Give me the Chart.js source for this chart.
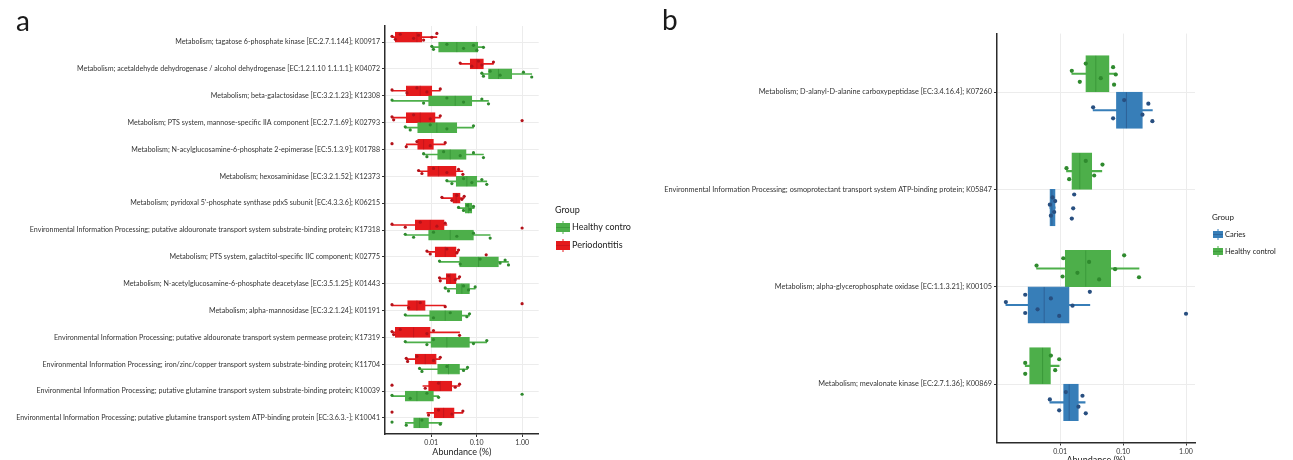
<!DOCTYPE html>
<html>
<head>
<meta charset="utf-8">
<script src="https://cdn.jsdelivr.net/npm/chart.js@4.4.1/dist/chart.umd.min.js"></script>
<style>
  html, body { margin: 0; padding: 0; background: #fff; overflow: hidden; width: 1293px; height: 460px; }
  #wrapA { position: absolute; left: 0; top: 0; width: 631px; height: 460px; overflow: hidden; }
  #wrapB { position: absolute; left: 640px; top: 0; width: 653px; height: 468px; }
</style>
</head>
<body>
<div id="wrapA"><canvas id="chartA" width="631" height="460"></canvas></div>
<div id="wrapB"><canvas id="chartB" width="653" height="468"></canvas></div>
<script>
// ---------- Panel a: periodontitis vs healthy control ----------
const catsA = [
  "Metabolism; tagatose 6-phosphate kinase [EC:2.7.1.144]; K00917",
  "Metabolism; acetaldehyde dehydrogenase / alcohol dehydrogenase [EC:1.2.1.10 1.1.1.1]; K04072",
  "Metabolism; beta-galactosidase [EC:3.2.1.23]; K12308",
  "Metabolism; PTS system, mannose-specific IIA component [EC:2.7.1.69]; K02793",
  "Metabolism; N-acylglucosamine-6-phosphate 2-epimerase [EC:5.1.3.9]; K01788",
  "Metabolism; hexosaminidase [EC:3.2.1.52]; K12373",
  "Metabolism; pyridoxal 5'-phosphate synthase pdxS subunit [EC:4.3.3.6]; K06215",
  "Environmental Information Processing; putative aldouronate transport system substrate-binding protein; K17318",
  "Metabolism; PTS system, galactitol-specific IIC component; K02775",
  "Metabolism; N-acetylglucosamine-6-phosphate deacetylase [EC:3.5.1.25]; K01443",
  "Metabolism; alpha-mannosidase [EC:3.2.1.24]; K01191",
  "Environmental Information Processing; putative aldouronate transport system permease protein; K17319",
  "Environmental Information Processing; iron/zinc/copper transport system substrate-binding protein; K11704",
  "Environmental Information Processing; putative glutamine transport system substrate-binding protein; K10039",
  "Environmental Information Processing; putative glutamine transport system ATP-binding protein [EC:3.6.3.-]; K10041"
];

const periodontitisLow    = [0.00137, 0.0434, 0.00137, 0.00137, 0.00282, 0.00527, 0.0172, 0.00137, 0.00803, 0.0152, 0.00137, 0.00137, 0.00282, 0.00656, 0.00803];
const periodontitisQ1     = [0.00162, 0.0719, 0.00282, 0.00282, 0.00501, 0.0083, 0.0299, 0.00445, 0.0122, 0.0214, 0.00302, 0.00162, 0.00445, 0.00873, 0.0116];
const periodontitisMedian = [0.00484, 0.101, 0.00573, 0.00573, 0.00679, 0.0145, 0.0354, 0.00951, 0.0203, 0.0262, 0.00484, 0.00409, 0.00738, 0.0158, 0.0187];
const periodontitisQ3     = [0.00624, 0.141, 0.0103, 0.0122, 0.0112, 0.0354, 0.0434, 0.0193, 0.0354, 0.0354, 0.00738, 0.00951, 0.0129, 0.0285, 0.032];
const periodontitisHigh   = [0.0133, 0.234, 0.0158, 0.0158, 0.0203, 0.0497, 0.0531, 0.0221, 0.0399, 0.042, 0.0203, 0.042, 0.0158, 0.042, 0.0497];
const periodontitisPoints = [
  [0.00137, 0.00162, 0.00208, 0.00409, 0.00527, 0.00679, 0.0103, 0.0133],
  [0.0434, 0.0783, 0.110, 0.130, 0.234],
  [0.00137, 0.00292, 0.00484, 0.00803, 0.0158],
  [0.00137, 0.00149, 0.00409, 0.00951, 0.0158, 1.0],
  [0.00137, 0.00282, 0.00484, 0.00951, 0.0203],
  [0.00527, 0.00624, 0.0112, 0.0221, 0.0399, 0.0497],
  [0.0172, 0.0285, 0.0366, 0.0472, 0.0531],
  [0.00137, 0.00268, 0.00573, 0.0133, 0.0203, 1.0],
  [0.00803, 0.00951, 0.0221, 0.0366, 0.0399, 0.162],
  [0.0152, 0.0158, 0.024, 0.0337, 0.042],
  [0.00137, 0.00318, 0.00573, 0.0203, 1.0],
  [0.00137, 0.00149, 0.00208, 0.00803, 0.0112, 0.042],
  [0.00282, 0.00302, 0.00484, 0.0112, 0.0158],
  [0.00137, 0.00738, 0.0145, 0.0337, 0.042],
  [0.00137, 0.00873, 0.0145, 0.0285, 0.0497]
];

const healthyALow    = [0.0103, 0.130, 0.00137, 0.00268, 0.00679, 0.0221, 0.0399, 0.00268, 0.0152, 0.0203, 0.00268, 0.00268, 0.00554, 0.00137, 0.00268];
const healthyAQ1     = [0.0145, 0.182, 0.00873, 0.00501, 0.0138, 0.0354, 0.0559, 0.00873, 0.042, 0.0354, 0.00919, 0.00983, 0.0138, 0.00268, 0.00409];
const healthyAMedian = [0.0366, 0.302, 0.0337, 0.0133, 0.0262, 0.0608, 0.0661, 0.0262, 0.110, 0.0472, 0.0203, 0.0221, 0.024, 0.00484, 0.00554];
const healthyAQ3     = [0.106, 0.593, 0.0783, 0.0366, 0.0588, 0.101, 0.0783, 0.0851, 0.302, 0.0695, 0.0472, 0.0695, 0.042, 0.0112, 0.00873];
const healthyAHigh   = [0.141, 1.63, 0.182, 0.0851, 0.141, 0.167, 0.0881, 0.198, 0.501, 0.0927, 0.0695, 0.167, 0.0629, 0.0145, 0.0172];
const healthyAPoints = [
  [0.0103, 0.0112, 0.0221, 0.0514, 0.0851, 0.101, 0.141],
  [0.130, 0.141, 0.198, 0.328, 1.07, 1.63],
  [0.00137, 0.00679, 0.0221, 0.0514, 0.130, 0.182],
  [0.00268, 0.00345, 0.00951, 0.0221, 0.0851],
  [0.00679, 0.00803, 0.0187, 0.0434, 0.0851, 0.141],
  [0.0221, 0.0285, 0.0514, 0.0783, 0.130, 0.167],
  [0.0399, 0.0514, 0.0629, 0.0719, 0.0851],
  [0.00268, 0.00409, 0.0112, 0.0366, 0.0851, 0.198],
  [0.0152, 0.0434, 0.119, 0.328, 0.423, 0.501],
  [0.0203, 0.024, 0.0514, 0.0661, 0.0927],
  [0.00268, 0.0112, 0.0262, 0.0608, 0.0695],
  [0.00268, 0.00803, 0.0112, 0.0851, 0.167],
  [0.00554, 0.00624, 0.0221, 0.0514, 0.0629],
  [0.00137, 0.00345, 0.00803, 0.0145, 1.0],
  [0.00137, 0.00282, 0.00624, 0.0158]
];

// ---------- Panel b: caries vs healthy control ----------
const catsB = [
  "Metabolism; D-alanyl-D-alanine carboxypeptidase [EC:3.4.16.4]; K07260",
  "Environmental Information Processing; osmoprotectant transport system ATP-binding protein; K05847",
  "Metabolism; alpha-glycerophosphate oxidase [EC:1.1.3.21]; K00105",
  "Metabolism; mevalonate kinase [EC:2.7.1.36]; K00869"
];

const healthyBLow    = [0.0153, 0.0126, 0.00421, 0.00278];
const healthyBQ1     = [0.0255, 0.0153, 0.012, 0.00326];
const healthyBMedian = [0.0368, 0.0205, 0.0255, 0.00525];
const healthyBQ3     = [0.060, 0.0318, 0.0637, 0.00702];
const healthyBHigh   = [0.0783, 0.0459, 0.179, 0.00964];
const healthyBPoints = [
  [0.0153, 0.0205, 0.0255, 0.0442, 0.0694, 0.0719, 0.0765],
  [0.0126, 0.0139, 0.0255, 0.0347, 0.047],
  [0.00421, 0.0109, 0.0112, 0.0188, 0.0288, 0.0416, 0.0746, 0.104, 0.179],
  [0.00278, 0.00278, 0.00711, 0.00833, 0.00964]
];

const cariesLow    = [0.0334, 0.00685, 0.00137, 0.00685];
const cariesQ1     = [0.0783, 0.00685, 0.00307, 0.0113];
const cariesMedian = [0.113, 0.00738, 0.00557, 0.0139];
const cariesQ3     = [0.203, 0.00833, 0.0139, 0.0195];
const cariesHigh   = [0.292, 0.00833, 0.0296, 0.0249];
const cariesPoints = [
  [0.0334, 0.0694, 0.104, 0.203, 0.252, 0.292],
  [0.00685, 0.00711, 0.00756, 0.00803, 0.00833, 0.0153, 0.0161, 0.0167],
  [0.00137, 0.00278, 0.00278, 0.00437, 0.00711, 0.00964, 0.0157, 0.0296, 1.0],
  [0.00685, 0.00964, 0.0123, 0.0195, 0.0226, 0.0255]
];

const abundanceTicks = [0.01, 0.1, 1];

// ---------- styling ----------
const FONT = "Lato, 'Liberation Sans', sans-serif";
const RED = '#E41A1C', GREEN = '#4DAF4A', BLUE = '#377EB8';
const RED_DARK = '#B3121A', GREEN_DARK = '#2F8A2E', BLUE_DARK = '#284F80';
const DODGE = 0.1875;          // half of a box's share of a category band
const JITTER = [-0.2, 0.55, -0.7, 0.3, -0.45, 0.75, 0.05, -0.9, 0.6];
const JITTER_AMP = 0.15;

// one boxplot group = whisker bar + IQR bar + median tick + jittered dots
function boxGroup(label, low, q1, med, q3, high, pts, dodge, fill, dark, st) {
  const pos = i => i + dodge;
  return [
    { type: 'bar', label: label + ' whisker', data: low.map((v, i) => ({ x: [v, high[i]], y: pos(i) })),
      backgroundColor: fill, barThickness: st.whisker, grouped: false, borderWidth: 0, order: 3 },
    { type: 'bar', label: label, data: q1.map((v, i) => ({ x: [v, q3[i]], y: pos(i) })),
      backgroundColor: fill, borderColor: fill, borderWidth: 0.8, borderSkipped: false,
      grouped: false, categoryPercentage: 1, barPercentage: 1, order: 2 },
    { type: 'scatter', label: label + ' median', data: med.map((v, i) => ({ x: v, y: pos(i) })),
      pointStyle: 'line', pointRotation: 90, pointRadius: st.median, pointBorderWidth: 1,
      pointBorderColor: dark + '99', order: 1 },
    { type: 'scatter', label: label + ' samples',
      data: pts.flatMap((row, i) => row.map((v, k) => ({ x: v, y: pos(i) + JITTER[k % JITTER.length] * JITTER_AMP }))),
      pointRadius: st.dot, pointBackgroundColor: dark, pointBorderWidth: 0, order: 0 }
  ];
}

// panel letter and group legend
const panelDecor = {
  id: 'panelDecor',
  afterDraw(chart, args, o) {
    const ctx = chart.ctx;
    ctx.save();
    ctx.fillStyle = '#1a1a1a';
    ctx.textAlign = 'left';
    ctx.textBaseline = 'alphabetic';
    ctx.font = `${o.letterSize}px ${FONT}`;
    ctx.fillText(o.letter, o.letterX, o.letterY);

    ctx.textBaseline = 'middle';
    ctx.font = `${o.titleSize}px ${FONT}`;
    ctx.fillStyle = '#222';
    ctx.fillText(o.title, o.legendX, o.legendY);
    ctx.font = `${o.labelSize}px ${FONT}`;
    o.items.forEach((it, k) => {
      const x0 = o.legendX + 1, y0 = o.legendY + o.firstGap + k * o.step;
      const w = o.keyW, h = o.keyH;
      ctx.strokeStyle = it.fill;
      ctx.lineWidth = 1;
      ctx.beginPath();
      ctx.moveTo(x0 + w / 2, y0); ctx.lineTo(x0 + w / 2, y0 + h);
      ctx.stroke();
      ctx.fillStyle = it.fill;
      ctx.fillRect(x0, y0 + 2, w, h - 4);
      ctx.strokeStyle = it.dark;
      ctx.globalAlpha = 0.5;
      ctx.beginPath();
      ctx.moveTo(x0, y0 + h / 2); ctx.lineTo(x0 + w, y0 + h / 2);
      ctx.stroke();
      ctx.globalAlpha = 1;
      ctx.fillStyle = '#222';
      ctx.fillText(it.label, x0 + w + 2, y0 + h / 2);
    });
    ctx.restore();
  }
};

function makeOptions(cats, labelSize, yFit, xFit, padding, xMin, xMax, decor) {
  return {
    responsive: false,
    animation: false,
    indexAxis: 'y',
    devicePixelRatio: 1,
    layout: { padding },
    plugins: { legend: { display: false }, tooltip: { enabled: false }, panelDecor: decor },
    scales: {
      x: {
        type: 'logarithmic', min: xMin, max: xMax, offset: false,
        afterBuildTicks: s => { s.ticks = abundanceTicks.map(v => ({ value: v })); },
        afterFit: s => { s.height = xFit; },
        ticks: { callback: v => Number(v).toFixed(2), color: '#333', font: { family: FONT, size: 7 }, padding: 2, maxRotation: 0 },
        grid: { color: '#ececec', lineWidth: 1, tickLength: 3, tickColor: '#333', offset: false },
        border: { display: true, color: '#2b2b2b', width: 1.5 },
        title: { display: true, text: 'Abundance (%)', color: '#1a1a1a', font: { family: FONT, size: 9 }, padding: { top: 0, bottom: 3 } }
      },
      y: {
        type: 'linear', reverse: true, min: -0.6, max: cats.length - 0.4, offset: false, beginAtZero: false,
        afterBuildTicks: s => { s.ticks = cats.map((c, i) => ({ value: i })); },
        afterFit: s => { s.width = yFit; },
        ticks: { callback: v => cats[v], autoSkip: false, color: '#333', font: { family: FONT, size: labelSize }, padding: 2 },
        grid: { color: '#ececec', lineWidth: 1, tickLength: 3, tickColor: '#333', offset: false },
        border: { display: true, color: '#2b2b2b', width: 1.5 }
      }
    }
  };
}

new Chart(document.getElementById('chartA'), {
  type: 'bar',
  data: {
    datasets: [
      ...boxGroup('Healthy control', healthyALow, healthyAQ1, healthyAMedian, healthyAQ3, healthyAHigh, healthyAPoints, DODGE, GREEN, GREEN_DARK, { whisker: 1, median: 5, dot: 1.6 }),
      ...boxGroup('Periodontitis', periodontitisLow, periodontitisQ1, periodontitisMedian, periodontitisQ3, periodontitisHigh, periodontitisPoints, -DODGE, RED, RED_DARK, { whisker: 1, median: 5, dot: 1.6 })
    ]
  },
  options: makeOptions(catsA, 7.1, 385, 26, { top: 26, right: 92.3, bottom: 0, left: 0 }, 0.00096, 2.32, {
    letter: 'a', letterX: 16, letterY: 31, letterSize: 28,
    title: 'Group', legendX: 555, legendY: 210, titleSize: 9, labelSize: 9,
    firstGap: 11, step: 18, keyW: 14, keyH: 13,
    items: [{ label: 'Healthy control', fill: GREEN, dark: GREEN_DARK }, { label: 'Periodontitis', fill: RED, dark: RED_DARK }]
  }),
  plugins: [panelDecor]
});

new Chart(document.getElementById('chartB'), {
  type: 'bar',
  data: {
    datasets: [
      ...boxGroup('Caries', cariesLow, cariesQ1, cariesMedian, cariesQ3, cariesHigh, cariesPoints, DODGE, BLUE, BLUE_DARK, { whisker: 1.5, median: 18, dot: 2.1 }),
      ...boxGroup('Healthy control', healthyBLow, healthyBQ1, healthyBMedian, healthyBQ3, healthyBHigh, healthyBPoints, -DODGE, GREEN, GREEN_DARK, { whisker: 1.5, median: 18, dot: 2.1 })
    ]
  },
  options: makeOptions(catsB, 7.3, 357, 25.5, { top: 33.6, right: 98, bottom: 0, left: 0 }, 0.00099, 1.39, {
    letter: 'b', letterX: 22, letterY: 30, letterSize: 28,
    title: 'Group', legendX: 572, legendY: 217, titleSize: 8, labelSize: 7.5,
    firstGap: 12, step: 17, keyW: 10, keyH: 11,
    items: [{ label: 'Caries', fill: BLUE, dark: BLUE_DARK }, { label: 'Healthy control', fill: GREEN, dark: GREEN_DARK }]
  }),
  plugins: [panelDecor]
});
</script>
</body>
</html>
